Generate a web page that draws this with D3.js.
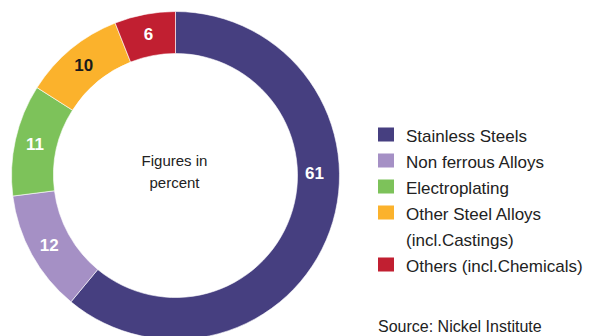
<!DOCTYPE html>
<html><head><meta charset="utf-8">
<script src="https://cdn.jsdelivr.net/npm/d3@7"></script>
<style>html,body{margin:0;padding:0;background:#fff;}svg{display:block;}</style>
</head><body>
<script>
const categories = ["Stainless Steels","Non ferrous Alloys","Electroplating","Other Steel Alloys (incl.Castings)","Others (incl.Chemicals)"];
const legendLines = [["Stainless Steels"],["Non ferrous Alloys"],["Electroplating"],["Other Steel Alloys","(incl.Castings)"],["Others (incl.Chemicals)"]];
const values = [61,12,11,10,6];
const colors = ["#463f80","#a590c5","#7dc25a","#fbb22c","#c11f31"];
const labelColors = ["#fff","#fff","#fff","#1a1a1a","#fff"];
const centerText = ["Figures in","percent"];
const sourceText = "Source: Nickel Institute";

const W=589,H=336;
const svg=d3.select("body").append("svg").attr("width",W).attr("height",H);
const cx=175.5, cy=175.5, rOut=164, rIn=122;
const g=svg.append("g").attr("transform",`translate(${cx},${cy})`);
const pie=d3.pie().sort(null).value(d=>d)(values);
const arc=d3.arc().innerRadius(rIn).outerRadius(rOut);
g.selectAll("path").data(pie).join("path")
  .attr("d",arc).attr("fill",(d,i)=>colors[i]).attr("stroke","#fff").attr("stroke-width",0.6);
const labelArc=d3.arc().innerRadius(144).outerRadius(144);
g.selectAll("text.v").data(pie).join("text").attr("class","v")
  .attr("transform",(d,i)=>{
    let p;
    if(i===0){ p=[139*Math.sin(Math.PI/2-0.02), -139*Math.cos(Math.PI/2-0.02)]; }
    else p=labelArc.centroid(d);
    return `translate(${p[0]},${p[1]})`;})
  .attr("text-anchor","middle").attr("dy","0.36em")
  .attr("font-family","Liberation Sans, Arial, sans-serif").attr("font-weight","bold")
  .attr("font-size",17).attr("fill",(d,i)=>labelColors[i]).text(d=>d.data);
g.append("text").attr("text-anchor","middle").attr("font-family","Liberation Sans, Arial, sans-serif")
  .attr("font-size",15).attr("fill","#222")
  .selectAll("tspan").data(centerText).join("tspan").attr("x",-1).attr("y",(d,i)=>-9.5+i*21.5).text(d=>d);

const lg=svg.append("g");
let row=0;
legendLines.forEach((lines,i)=>{
  const base=141.5+row*26;
  lg.append("rect").attr("x",378).attr("y",base-14).attr("width",16).attr("height",14).attr("fill",colors[i]);
  lines.forEach((t,j)=>{
    lg.append("text").attr("x",406).attr("y",base+j*26).attr("font-family","Liberation Sans, Arial, sans-serif")
      .attr("font-size",17).attr("fill","#222").text(t);
  });
  row+=lines.length;
});
svg.append("text").attr("x",378).attr("y",332).attr("font-family","Liberation Sans, Arial, sans-serif")
  .attr("font-size",16).attr("fill","#222").text(sourceText);
</script>
</body></html>
